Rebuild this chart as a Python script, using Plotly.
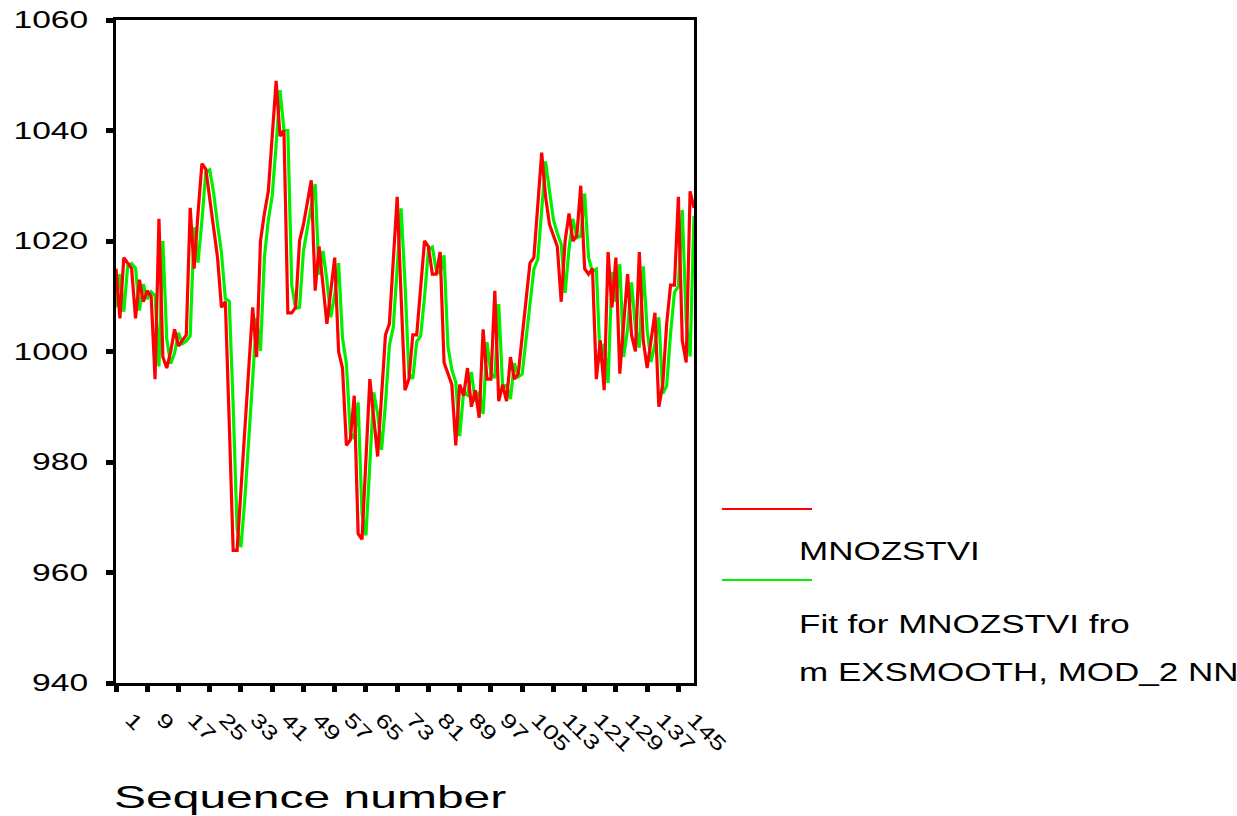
import plotly.graph_objects as go

# ---- data ----
mnozstvi = [
    1015, 1006, 1017, 1016, 1015, 1006, 1013, 1009, 1011, 1010,
    995, 1024, 999, 997, 1000, 1004, 1001, 1002, 1003, 1026,
    1015, 1025, 1034, 1033, 1028, 1022, 1017, 1008, 1009, 987,
    964, 964, 975, 986, 997, 1008, 999, 1020, 1025, 1029,
    1039, 1049, 1039, 1040, 1007, 1007, 1008, 1020, 1023, 1027,
    1031, 1011, 1019, 1012, 1005, 1011, 1017, 1000, 997, 983,
    984, 992, 967, 966, 981, 995, 988, 981, 992, 1003,
    1005, 1016, 1028, 1010, 993, 995, 1003, 1003, 1011, 1020,
    1019, 1014, 1014, 1018, 998, 996, 994, 983, 994, 992,
    997, 990, 993, 988, 1004, 995, 995, 1011, 991, 994,
    991, 999, 995, 996, 1003, 1010, 1016, 1017, 1027, 1036,
    1028, 1023, 1021, 1019, 1009, 1020, 1025, 1020, 1021, 1030,
    1015, 1014, 1015, 995, 1002, 993, 1018, 1008, 1017, 996,
    1005, 1014, 1003, 1000, 1018, 1002, 997, 1002, 1007, 990,
    994, 1005, 1012, 1012, 1028, 1002, 998, 1029, 1026,
]
fit = [
    1008, 1014, 1007.2, 1015.5, 1015.9, 1015.1, 1007.4, 1012.2, 1009.5, 1010.8,
    1010.1, 997.3, 1020, 1002.2, 997.8, 999.7, 1003.4, 1001.4, 1001.9, 1002.8,
    1022.5, 1016.1, 1023.7, 1032.5, 1032.9, 1028.7, 1023, 1017.9, 1009.5, 1009.1,
    990.3, 967.9, 964.6, 973.4, 984.1, 995.1, 1006.1, 1000.1, 1017, 1023.8,
    1028.2, 1037.4, 1047.3, 1040.2, 1040, 1012, 1007.8, 1008, 1018.2, 1022.3,
    1026.3, 1030.3, 1013.9, 1018.2, 1012.9, 1006.2, 1010.3, 1016, 1002.4, 997.8,
    985.2, 984.2, 990.8, 970.6, 966.7, 978.9, 992.6, 988.7, 982.2, 990.5,
    1001.1, 1004.4, 1014.3, 1025.9, 1012.4, 995.9, 995.1, 1001.8, 1002.8, 1009.8,
    1018.5, 1018.9, 1014.7, 1014.1, 1017.4, 1000.9, 996.7, 994.4, 984.7, 992.6,
    992.1, 996.3, 990.9, 992.7, 988.7, 1001.7, 996, 995.2, 1008.6, 993.6,
    993.9, 991.4, 997.9, 995.4, 995.9, 1001.9, 1008.8, 1014.9, 1016.7, 1025.5,
    1034.4, 1029, 1023.9, 1021.4, 1019.4, 1010.6, 1018.6, 1024, 1020.6, 1020.9,
    1028.6, 1017, 1014.5, 1014.9, 998, 1001.4, 994.3, 1014.4, 1009, 1015.8,
    999, 1004.1, 1012.5, 1004.4, 1000.7, 1015.4, 1004, 998.1, 1001.4, 1006.2,
    992.4, 993.8, 1003.3, 1010.7, 1011.8, 1025.6, 1005.5, 999.1, 1024.5,
]
seq = list(range(1, len(mnozstvi) + 1))
x_tick_vals = [1, 9, 17, 25, 33, 41, 49, 57, 65, 73, 81, 89, 97, 105, 113, 121, 129, 137, 145]
x_tick_text = [str(v) for v in x_tick_vals]
y_tick_vals = [940, 960, 980, 1000, 1020, 1040, 1060]

series_name = "MNOZSTVI"
fit_lines = ["Fit for MNOZSTVI fro", "m EXSMOOTH, MOD_2 NN"]
x_title = "Sequence number"

FONT = "Liberation Sans, Arial, sans-serif"
RED = "#ff0000"
GREEN = "#00f000"

fig = go.Figure()
fig.add_trace(go.Scatter(x=seq, y=fit, mode="lines", name="Fit",
                         line=dict(color=GREEN, width=3.2), showlegend=False))
fig.add_trace(go.Scatter(x=seq, y=mnozstvi, mode="lines", name=series_name,
                         line=dict(color=RED, width=3.2), showlegend=False))

fig.update_layout(
    width=1237, height=816, autosize=False,
    margin=dict(l=116, r=543, t=20, b=133, pad=0, autoexpand=False),
    paper_bgcolor="white", plot_bgcolor="white",
    font=dict(family=FONT, color="black"),
    showlegend=False,
)
fig.update_xaxes(
    range=[1, len(mnozstvi)], tickvals=x_tick_vals, ticktext=x_tick_text,
    tickangle=45, tickfont=dict(size=20, family=FONT, color="black"),
    ticks="outside", ticklen=6, tickwidth=5, tickcolor="black",
    showline=True, linecolor="black", linewidth=3, mirror=True,
    showgrid=False, zeroline=False, ticklabelstandoff=8, ticklabelshift=15,
    automargin=False,
)
fig.update_yaxes(
    range=[940, 1060], tickvals=y_tick_vals,
    tickfont=dict(size=24, family=FONT, color="black"),
    ticks="outside", ticklen=7, tickwidth=5, tickcolor="black",
    showline=True, linecolor="black", linewidth=3, mirror=True,
    showgrid=False, zeroline=False, ticklabelstandoff=13,
    automargin=False,
)

def py(p):  # pixel row -> paper y
    return (683 - p) / 663.0

def px(p):  # pixel column -> paper x
    return (p - 116) / 578.0

# legend samples (decoration)
fig.add_shape(type="line", xref="paper", yref="paper", x0=px(722), x1=px(812),
              y0=py(509), y1=py(509), line=dict(color=RED, width=2))
fig.add_shape(type="line", xref="paper", yref="paper", x0=px(722), x1=px(812),
              y0=py(580), y1=py(580), line=dict(color=GREEN, width=2))

ann = dict(xref="paper", yref="paper", xanchor="left", yanchor="middle",
           align="left", showarrow=False)
fig.add_annotation(text=series_name, x=px(797), y=py(551), font=dict(size=25, family=FONT), **ann)
fig.add_annotation(text=fit_lines[0], x=px(797), y=py(624), font=dict(size=25, family=FONT), **ann)
fig.add_annotation(text=fit_lines[1], x=px(797), y=py(672), font=dict(size=25, family=FONT), **ann)
fig.add_annotation(text=x_title, x=px(112), y=py(797), font=dict(size=32, family=FONT), **ann)

# The reference renders its text horizontally stretched; reproduce that with SVG textLength.
post = """
(function(){
  var gd = document.getElementById('{plot_id}');
  function stretch(t, k){
    var w = t.getAttribute('data-nat');
    if (!w) { w = t.getComputedTextLength(); t.setAttribute('data-nat', w); }
    t.setAttribute('lengthAdjust', 'spacingAndGlyphs');
    t.setAttribute('textLength', (parseFloat(w) * k).toFixed(1));
  }
  function fix(){
    gd.querySelectorAll('.ytick text').forEach(function(t){ stretch(t, 1.40); });
    gd.querySelectorAll('.xtick text').forEach(function(t){ stretch(t, 1.35); });
    gd.querySelectorAll('.annotation-text').forEach(function(t){
      var fs = parseFloat(t.style.fontSize) || 24;
      stretch(t, fs > 28 ? 1.50 : 1.40);
    });
  }
  fix();
  if (gd.on) { gd.on('plotly_afterplot', fix); }
})();
"""

fig.write_html("out.html", post_script=post)
